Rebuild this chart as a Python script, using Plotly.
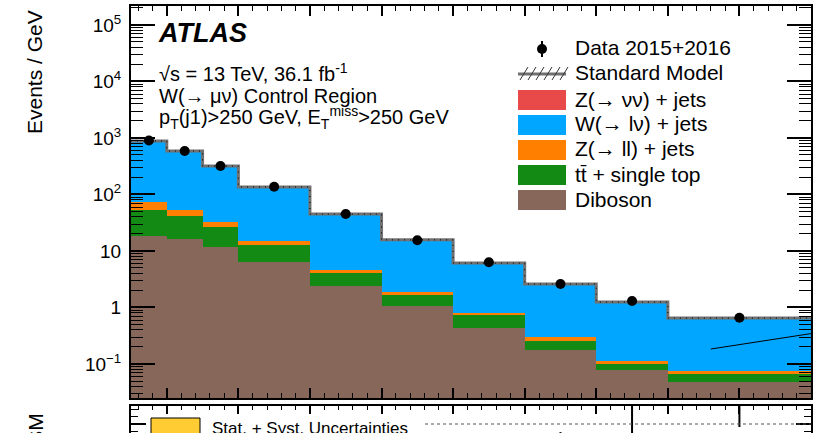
import plotly.graph_objects as go

# ---------------- data ----------------
bin_edges = [250, 300, 350, 400, 500, 600, 700, 800, 900, 1000, 1200]
diboson = [18.4, 16.3, 11.8, 6.4, 2.4, 1.06, 0.43, 0.177, 0.078, 0.048]
ttbar_top = [34.6, 25.4, 14.8, 6.4, 1.7, 0.60, 0.31, 0.078, 0.022, 0.0185]
z_ll = [20.6, 11.3, 6.0, 2.2, 0.5, 0.22, 0.06, 0.045, 0.013, 0.0085]
w_lnu = [809, 534, 285, 120.5, 40.2, 13.8, 5.28, 2.29, 1.13, 0.573]
z_nunu = [2.5, 1.8, 1.0, 0.45, 0.15, 0.05, 0.02, 0.008, 0.004, 0.002]
data = [900, 590, 320, 137, 45, 15.5, 6.3, 2.6, 1.3, 0.66]

ratio_vals = [0.98, 1.01, 1.0, 1.01, 0.99, 0.99, 1.03, 1.0, 1.04, 1.2]
ratio_errs = [0.01, 0.01, 0.015, 0.015, 0.02, 0.03, 0.04, 0.073, 0.2, 0.11]

ytick_vals = [0.1, 1, 10, 100, 1e3, 1e4, 1e5]
ytick_text = ["10<sup>\u22121</sup>", "1", "10", "10<sup>2</sup>", "10<sup>3</sup>",
              "10<sup>4</sup>", "10<sup>5</sup>"]

artifact_x = [1060, 1200]
artifact_y = [0.184, 0.345]

legend_labels = ["Data 2015+2016", "Standard Model", "Z(\u2192 \u03bd\u03bd) + jets",
                 "W(\u2192 l\u03bd) + jets", "Z(\u2192 ll) + jets",
                 "tt\u0304 + single top", "Diboson"]

# ---------------- style ----------------
C_BLUE = "#00a6ff"
C_ORANGE = "#ff7f00"
C_GREEN = "#138a13"
C_BROWN = "#86675a"
C_RED = "#e84a4a"
C_GRAY = "#717171"
C_YELLOW = "#ffcc33"
FONT = "Liberation Sans"

W, H = 815, 433
L_PX, R_PX = 131, 811
MAIN_TOP, MAIN_BOT = 6, 398
RAT_TOP = 406


def px(x):
    return x / W


def py(y):
    return 1 - y / H


centers = [(a + b) / 2 for a, b in zip(bin_edges[:-1], bin_edges[1:])]
widths = [b - a for a, b in zip(bin_edges[:-1], bin_edges[1:])]
total = [sum(v) for v in zip(diboson, ttbar_top, z_ll, w_lnu, z_nunu)]

fig = go.Figure()
for vals, col in [(diboson, C_BROWN), (ttbar_top, C_GREEN), (z_ll, C_ORANGE),
                  (w_lnu, C_BLUE), (z_nunu, C_RED)]:
    fig.add_trace(go.Bar(x=centers, y=vals, width=widths, marker=dict(color=col, line=dict(width=0)),
                         showlegend=False, xaxis="x", yaxis="y"))

fig.add_trace(go.Scatter(x=bin_edges, y=total + [total[-1]], mode="lines", line_shape="hv",
                         line=dict(color=C_GRAY, width=3), showlegend=False))
fig.add_trace(go.Scatter(x=bin_edges, y=total + [total[-1]], mode="lines", line_shape="hv",
                         line=dict(color="black", width=1, dash="1px,5px"), showlegend=False))
fig.add_trace(go.Scatter(x=centers, y=data, mode="markers",
                         marker=dict(color="black", size=10), showlegend=False))
fig.add_trace(go.Scatter(x=artifact_x, y=artifact_y, mode="lines",
                         line=dict(color="black", width=1), showlegend=False))

# ratio panel
fig.add_trace(go.Scatter(x=centers, y=ratio_vals, mode="markers", xaxis="x2", yaxis="y2",
                         marker=dict(color="black", size=9),
                         error_y=dict(type="data", array=ratio_errs, color="black", thickness=2, width=0),
                         showlegend=False))

axis_common = dict(showline=True, linecolor="black", linewidth=2,
                   ticks="inside", tickcolor="black", showgrid=False, zeroline=False)

fig.update_layout(
    width=W, height=H, paper_bgcolor="white", plot_bgcolor="white",
    margin=dict(l=0, r=0, t=0, b=0), barmode="stack", bargap=0,
    font=dict(family=FONT, color="black", size=19),
    xaxis=dict(domain=[px(L_PX), px(R_PX)], range=[250, 1200], anchor="y", mirror="ticks",
               dtick=100, tick0=0, ticklen=10, tickwidth=1.5, showticklabels=False,
               minor=dict(dtick=20, ticklen=5, ticks="inside", tickcolor="black", tickwidth=1),
               **axis_common),
    yaxis=dict(domain=[py(MAIN_BOT), py(MAIN_TOP)], type="log", range=[-1.602, 5.336], anchor="x",
               mirror="ticks",
               tickvals=ytick_vals, ticktext=ytick_text, ticklen=24, tickwidth=1.5,
               minor=dict(dtick="D1", ticklen=12, ticks="inside", tickcolor="black", tickwidth=1),
               tickfont=dict(size=19), ticklabelstandoff=4, **axis_common),
    xaxis2=dict(domain=[px(L_PX), px(R_PX)], range=[250, 1200], anchor="y2", side="top", mirror=False,
                dtick=100, tick0=0, ticklen=8, tickwidth=1.5, showticklabels=False,
                minor=dict(dtick=20, ticklen=4, ticks="inside", tickcolor="black", tickwidth=1),
                **axis_common),
    yaxis2=dict(domain=[0, py(RAT_TOP)], range=[1.07, 1.16], anchor="x2", mirror="ticks",
                tickvals=[1.1], ticktext=["1.1"], ticklen=15, tickwidth=1.5,
                minor=dict(dtick=0.025, tick0=1.0, ticklen=7, ticks="inside", tickcolor="black", tickwidth=1),
                tickfont=dict(size=19), ticklabelstandoff=4, **axis_common),
)

shapes = []
annotations = []

# dotted line in ratio panel
shapes.append(dict(type="line", xref="x2 domain", yref="y2", x0=(425 - L_PX) / (R_PX - L_PX), x1=1,
                   y0=1.1, y1=1.1, line=dict(color="#555555", width=1, dash="dot")))
# ratio legend
shapes.append(dict(type="rect", xref="paper", yref="paper", x0=px(151), x1=px(200), y0=py(440), y1=py(418),
                   fillcolor=C_YELLOW, line=dict(color="black", width=1)))
annotations.append(dict(text="Stat. + Syst. Uncertainties", xref="paper", yref="paper", x=px(210), y=py(428),
                        xanchor="left", yanchor="middle", showarrow=False, font=dict(size=17)))

# axis titles
annotations.append(dict(text="Events / GeV", xref="paper", yref="paper", x=px(35), y=py(8),
                        xanchor="center", yanchor="top", textangle=-90, showarrow=False, font=dict(size=21)))
annotations.append(dict(text="Data / SM", xref="paper", yref="paper", x=px(35), y=py(412),
                        xanchor="center", yanchor="top", textangle=-90, showarrow=False, font=dict(size=21)))

# ATLAS labels
annotations.append(dict(text="<b><i>ATLAS</i></b>", xref="paper", yref="paper", x=px(156), y=py(33),
                        xanchor="left", yanchor="middle", showarrow=False, font=dict(size=27)))
annotations.append(dict(text="\u221as = 13 TeV, 36.1 fb<sup>-1</sup>", xref="paper", yref="paper",
                        x=px(157), y=py(72), xanchor="left", yanchor="middle", showarrow=False,
                        font=dict(size=20)))
annotations.append(dict(text="W(\u2192 \u03bc\u03bd) Control Region", xref="paper", yref="paper",
                        x=px(157), y=py(96), xanchor="left", yanchor="middle", showarrow=False,
                        font=dict(size=20)))
annotations.append(dict(text="p<sub>T</sub>(j1)>250 GeV, E<sub>T</sub><sup>miss</sup>>250 GeV",
                        xref="paper", yref="paper", x=px(157), y=py(118), xanchor="left",
                        yanchor="middle", showarrow=False, font=dict(size=20)))

# main legend
leg_rows = [48, 73, 99, 124, 149, 174, 199]
box_x0, box_x1, text_x = 518, 566, 573
for lab, yr in zip(legend_labels, leg_rows):
    annotations.append(dict(text=lab, xref="paper", yref="paper", x=px(text_x), y=py(yr),
                            xanchor="left", yanchor="middle", showarrow=False, font=dict(size=21)))
# data symbol
shapes.append(dict(type="line", xref="paper", yref="paper", x0=px(542), x1=px(542), y0=py(41), y1=py(57),
                   line=dict(color="black", width=2)))
shapes.append(dict(type="circle", xref="paper", yref="paper", x0=px(537), x1=px(547), y0=py(54), y1=py(44),
                   fillcolor="black", line=dict(color="black", width=0)))
# SM symbol
shapes.append(dict(type="line", xref="paper", yref="paper", x0=px(box_x0), x1=px(box_x1), y0=py(74), y1=py(74),
                   line=dict(color=C_GRAY, width=3)))
for k in range(6):
    hx = box_x0 + 2 + k * 8
    shapes.append(dict(type="line", xref="paper", yref="paper", x0=px(hx), x1=px(hx + 8),
                       y0=py(80), y1=py(67), line=dict(color="#333333", width=1)))
for col, yr in zip([C_RED, C_BLUE, C_ORANGE, C_GREEN, C_BROWN], leg_rows[2:]):
    shapes.append(dict(type="rect", xref="paper", yref="paper", x0=px(box_x0), x1=px(box_x1),
                       y0=py(yr + 11), y1=py(yr - 9), fillcolor=col, line=dict(width=0)))

fig.update_layout(shapes=shapes, annotations=annotations)
fig.write_html("out.html", config={"displayModeBar": False},
               post_script="document.body.style.margin='0';document.body.style.overflow='hidden';")
